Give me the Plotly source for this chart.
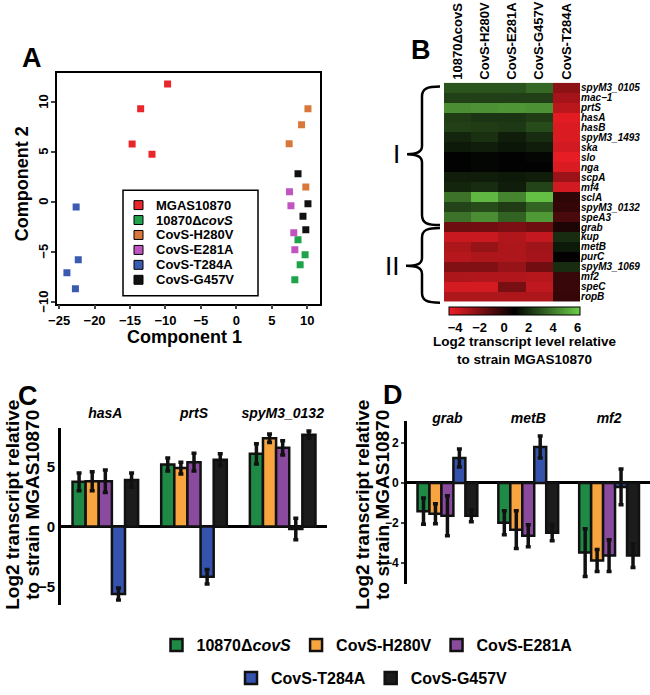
import plotly.graph_objects as go

W, H = 650, 695
FONT = "Arial, Liberation Sans, sans-serif"

# ---- panel A: PCA scores ----
pca_groups = ["MGAS10870", "10870Δ<i>covS</i>", "CovS-H280V", "CovS-E281A", "CovS-T284A", "CovS-G457V"]
pca_colors = ["#e8262b", "#1fa34a", "#d9773a", "#c055c0", "#3a5bb0", "#111111"]
pca_x = [
    [-9.7, -13.5, -14.7, -11.9],
    [8.7, 9.7, 9.0, 8.25],
    [10.1, 9.2, 7.45, 9.8],
    [7.5, 7.7, 8.1, 8.25],
    [-22.6, -22.3, -23.9, -22.7],
    [8.7, 10.1, 9.4, 9.8],
]
pca_y = [
    [11.76, 9.3, 5.78, 4.75],
    [-3.8, -5.3, -6.3, -7.8],
    [9.3, 7.7, 5.8, 1.46],
    [1.0, -0.4, -3.1, -4.8],
    [-0.53, -5.8, -7.1, -8.7],
    [2.8, -0.2, -1.46, -2.8],
]
pca_yticks = [-10, -5, 0, 5, 10]

# ---- panel B: heatmap ----
hm_cols = ["10870ΔcovS", "CovS-H280V", "CovS-E281A", "CovS-G457V", "CovS-T284A"]
hm_genes = ["spyM3_0105", "mac−1", "prtS", "hasA", "hasB", "spyM3_1493", "ska", "slo", "nga",
            "scpA", "mf4", "sclA", "spyM3_0132", "speA3", "grab", "kup", "metB", "purC",
            "spyM3_1069", "mf2", "speC", "ropB"]
hm_z = [
    [3.0, 3.0, 3.0, 3.5, -2.3],
    [2.5, 2.5, 2.5, 2.5, -2.8],
    [4.5, 4.6, 4.7, 4.6, -3.3],
    [2.4, 2.2, 2.2, 2.4, -4.2],
    [2.5, 2.4, 2.3, 2.8, -4.0],
    [1.8, 2.1, 1.6, 2.0, -4.0],
    [1.5, 1.6, 1.4, 1.6, -3.8],
    [0.9, 1.0, 0.9, 1.0, -4.3],
    [0.9, 1.0, 0.9, 0.9, -4.0],
    [1.6, 1.6, 1.5, 1.6, -2.6],
    [1.8, 2.0, 1.6, 2.6, -3.8],
    [3.8, 5.6, 4.3, 5.8, -0.2],
    [2.6, 2.8, 2.4, 3.4, -0.3],
    [3.8, 4.5, 3.4, 4.8, -0.8],
    [-1.6, -1.7, -1.9, -1.6, 0.2],
    [-3.6, -3.6, -3.1, -3.5, 2.0],
    [-3.0, -2.5, -3.0, -2.7, 1.5],
    [-3.2, -3.0, -3.0, -2.8, 0.8],
    [-2.0, -2.0, -2.5, -1.7, 2.0],
    [-3.0, -3.1, -3.1, -3.2, -0.4],
    [-3.9, -3.9, -1.8, -3.4, -0.4],
    [-3.0, -3.0, -3.0, -3.0, -0.3],
]

# ---- panels C and D: qRT-PCR bars ----
bar_strains = ["10870Δ<i>covS</i>", "CovS-H280V", "CovS-E281A", "CovS-T284A", "CovS-G457V"]
bar_colors = ["#1f8a45", "#f8a43f", "#8a4a9e", "#3553ac", "#1c1c1c"]
genes_c = ["hasA", "prtS", "spyM3_0132"]
vals_c = [
    [3.75, 5.2, 6.1],
    [3.8, 4.9, 7.4],
    [3.8, 5.4, 6.6],
    [-5.65, -4.2, -0.2],
    [3.9, 5.6, 7.7],
]
err_c = [
    [0.75, 0.55, 0.85],
    [0.8, 0.5, 0.35],
    [0.95, 0.75, 0.6],
    [0.5, 0.6, 0.9],
    [0.6, 0.5, 0.3],
]
genes_d = ["grab", "metB", "mf2"]
vals_d = [
    [-1.42, -2.0, -3.5],
    [-1.55, -2.35, -3.9],
    [-1.65, -2.65, -3.65],
    [1.25, 1.8, -0.2],
    [-1.65, -2.5, -3.65],
]
err_d = [
    [0.66, 0.6, 1.2],
    [0.5, 0.95, 0.55],
    [1.0, 0.55, 0.8],
    [0.45, 0.55, 0.9],
    [0.3, 0.4, 0.6],
]


def px(x):
    return x / W


def py(y):
    return 1 - y / H


fig = go.Figure()

for name, col, xs, ys in zip(pca_groups, pca_colors, pca_x, pca_y):
    fig.add_trace(go.Scatter(
        x=xs, y=ys, mode="markers", name=name, xaxis="x", yaxis="y", showlegend=False,
        marker=dict(symbol="square", size=7, color=col, line=dict(width=0)),
    ))

fig.add_trace(go.Heatmap(
    z=hm_z, x=hm_cols, y=hm_genes, xaxis="x2", yaxis="y2",
    zmin=-4.5, zmax=6.2, xgap=0, ygap=0,
    colorscale=[[0, "#f01e26"], [0.5, "#000000"], [1, "#6ccf4a"]],
    showscale=True,
    colorbar=dict(
        orientation="h", x=px(514.5), xanchor="center", y=py(308), yanchor="top",
        len=131 / W, lenmode="fraction", thickness=8, xpad=0, ypad=0,
        outlinewidth=1, outlinecolor="black", ticks="",
        ticklabelposition="outside bottom",
        tickvals=[-4, -2, 0, 2, 4, 6],
        tickfont=dict(family=FONT, size=13, color="black", weight="bold"),
    ),
))

for i, (name, col) in enumerate(zip(bar_strains, bar_colors)):
    lg = "legend2" if i < 3 else "legend3"
    fig.add_trace(go.Bar(
        x=genes_c, y=vals_c[i], name=name, xaxis="x3", yaxis="y3", legend=lg,
        marker=dict(color=col, line=dict(color="#111111", width=2.5)),
        error_y=dict(type="data", array=err_c[i], color="#111111", thickness=3.5, width=2.5),
    ))
    fig.add_trace(go.Bar(
        x=genes_d, y=vals_d[i], name=name, xaxis="x4", yaxis="y4", showlegend=False,
        marker=dict(color=col, line=dict(color="#111111", width=2.5)),
        error_y=dict(type="data", array=err_d[i], color="#111111", thickness=3.5, width=2.5),
    ))

bold13 = dict(family=FONT, size=13, color="black", weight="bold")

fig.update_layout(
    width=W, height=H, margin=dict(l=0, r=0, t=0, b=0),
    paper_bgcolor="white", plot_bgcolor="white",
    font=dict(family=FONT, color="black"),
    barmode="group", bargap=0.26, bargroupgap=0,
    xaxis=dict(domain=[px(57), px(320)], anchor="y", range=[-25.3, 11.8],
               tickvals=[-25, -20, -15, -10, -5, 0, 5, 10], showline=True, mirror=True,
               linecolor="black", linewidth=1.5, ticks="outside", ticklen=4, tickwidth=1.5,
               showgrid=False, zeroline=False, tickfont=bold13, automargin=False),
    yaxis=dict(domain=[py(305), py(73)], anchor="x", range=[-10.2, 12.9],
               tickvals=pca_yticks, showticklabels=False, showline=True, mirror=True,
               linecolor="black", linewidth=1.5, ticks="outside", ticklen=4, tickwidth=1.5,
               showgrid=False, zeroline=False, automargin=False),
    xaxis2=dict(domain=[px(444), px(580)], anchor="y2", side="top", tickangle=-90,
                ticks="", showgrid=False, zeroline=False, ticklabelstandoff=2,
                tickfont=dict(family=FONT, size=13, color="black", weight="bold"), automargin=False),
    yaxis2=dict(domain=[py(303), py(83)], anchor="x2", side="right", autorange="reversed",
                tickmode="array", tickvals=hm_genes, ticktext=hm_genes,
                ticks="", showgrid=False, zeroline=False, ticklabelstandoff=0,
                tickfont=dict(family=FONT, size=10, color="black", weight="bold", style="italic"),
                automargin=False),
    xaxis3=dict(domain=[px(61), px(327)], anchor="free", position=py(423), side="top",
                range=[-0.5, 2.5], ticks="", showline=False, showgrid=False, zeroline=False,
                tickfont=dict(family=FONT, size=14, color="black", weight="bold", style="italic"),
                automargin=False),
    yaxis3=dict(domain=[py(608), py(430)], anchor="x3", range=[-6.6, 8.25],
                tickvals=[-5, 0, 5], showline=True, linecolor="black", linewidth=3,
                ticks="", showgrid=False, zeroline=True, zerolinecolor="black", zerolinewidth=3,
                tickfont=dict(family=FONT, size=15, color="black", weight="bold"), automargin=False),
    xaxis4=dict(domain=[px(407), px(649.5)], anchor="free", position=py(428), side="top",
                range=[-0.5, 2.5], ticks="", showline=False, showgrid=False, zeroline=False,
                tickfont=dict(family=FONT, size=14, color="black", weight="bold", style="italic"),
                automargin=False),
    yaxis4=dict(domain=[py(587), py(423)], anchor="x4", range=[-5.1, 3.1],
                tickvals=[-4, -2, 0, 2], showline=True, linecolor="black", linewidth=3,
                ticks="outside", ticklen=3, tickwidth=2, showgrid=False, zeroline=True,
                zerolinecolor="black", zerolinewidth=3,
                tickfont=dict(family=FONT, size=12, color="black", weight="bold"), automargin=False),
    legend2=dict(orientation="h", x=px(367), y=py(648), xanchor="center", yanchor="middle",
                 font=dict(family=FONT, size=16, color="black", weight="bold")),
    legend3=dict(orientation="h", x=px(372), y=py(681), xanchor="center", yanchor="middle",
                 font=dict(family=FONT, size=16, color="black", weight="bold")),
)

# rotated y tick labels of panel A, placed on the y axis scale
for v in pca_yticks:
    fig.add_annotation(text=f"{v}".replace("-", "−"), x=px(44), y=v, xref="paper", yref="y",
                       showarrow=False, xanchor="center", yanchor="middle", textangle=-90,
                       font=bold13)

# legend box of panel A (drawn by hand so the rows sit as tight as in the original)
fig.add_shape(type="rect", xref="paper", yref="paper",
              x0=px(123), x1=px(258), y0=py(297), y1=py(191),
              line=dict(color="black", width=1.5), fillcolor="white", layer="above")
for k, (name, col) in enumerate(zip(pca_groups, pca_colors)):
    yy = 206 + 15 * k
    fig.add_shape(type="rect", xref="paper", yref="paper",
                  x0=px(134), x1=px(143), y0=py(yy + 4.5), y1=py(yy - 4.5),
                  line=dict(color="black", width=1), fillcolor=col, layer="above")
    fig.add_annotation(text=name, x=px(154), y=py(yy), xref="paper", yref="paper",
                       showarrow=False, xanchor="left", yanchor="middle",
                       font=dict(family=FONT, size=13, color="black", weight="bold"))


def brace(x_end, x_spine, x_tip, y_top, y_tip, y_bot):
    pts = [
        ("M", [(x_end, y_top)]),
        ("C", [(x_spine + 5, y_top), (x_spine, y_top + 2), (x_spine, y_top + 10)]),
        ("L", [(x_spine, y_tip - 8)]),
        ("C", [(x_spine, y_tip - 2), (x_spine - 5, y_tip), (x_tip, y_tip)]),
        ("C", [(x_spine - 5, y_tip), (x_spine, y_tip + 2), (x_spine, y_tip + 8)]),
        ("L", [(x_spine, y_bot - 10)]),
        ("C", [(x_spine, y_bot - 2), (x_spine + 5, y_bot), (x_end, y_bot)]),
    ]
    out = ""
    for cmd, ps in pts:
        out += cmd + " " + " ".join(f"{px(a):.5f},{py(b):.5f}" for a, b in ps) + " "
    return out.strip()


for args in [(440, 422, 407, 87, 155, 226), (440, 422, 406, 229, 267, 304)]:
    fig.add_shape(type="path", path=brace(*args), xref="paper", yref="paper",
                  line=dict(color="black", width=2.5))

ann = [
    ("A", 32, 58, 27, "bold", 0),
    ("B", 421, 50, 27, "bold", 0),
    ("C", 28, 398, 27, "bold", 0),
    ("D", 393, 397, 27, "bold", 0),
    ("Component 1", 184, 338, 18, "bold", 0),
    ("Component 2", 22, 185, 18, "bold", -90),
    ("I", 396, 155, 26, "normal", 0),
    ("II", 392, 267, 26, "normal", 0),
    ("Log2 transcript level relative<br>to strain MGAS10870", 525, 352, 13.5, "bold", 0),
    ("Log2 transcript relative", 13, 507, 19, "bold", -90),
    ("to strain MGAS10870", 33, 507, 19, "bold", -90),
    ("Log2 transcript relative", 363, 507, 19, "bold", -90),
    ("to strain MGAS10870", 383, 507, 19, "bold", -90),
]
for text, x, y, size, weight, ang in ann:
    fig.add_annotation(text=text, x=px(x), y=py(y), xref="paper", yref="paper",
                       showarrow=False, xanchor="center", yanchor="middle", textangle=ang,
                       font=dict(family=FONT, size=size, color="black", weight=weight))

# the page body has a default 8px margin; drop it so the figure sits at (0, 0)
fig.write_html("out.html", config={"displayModeBar": False},
               post_script="document.body.style.margin='0';document.body.style.padding='0';")
